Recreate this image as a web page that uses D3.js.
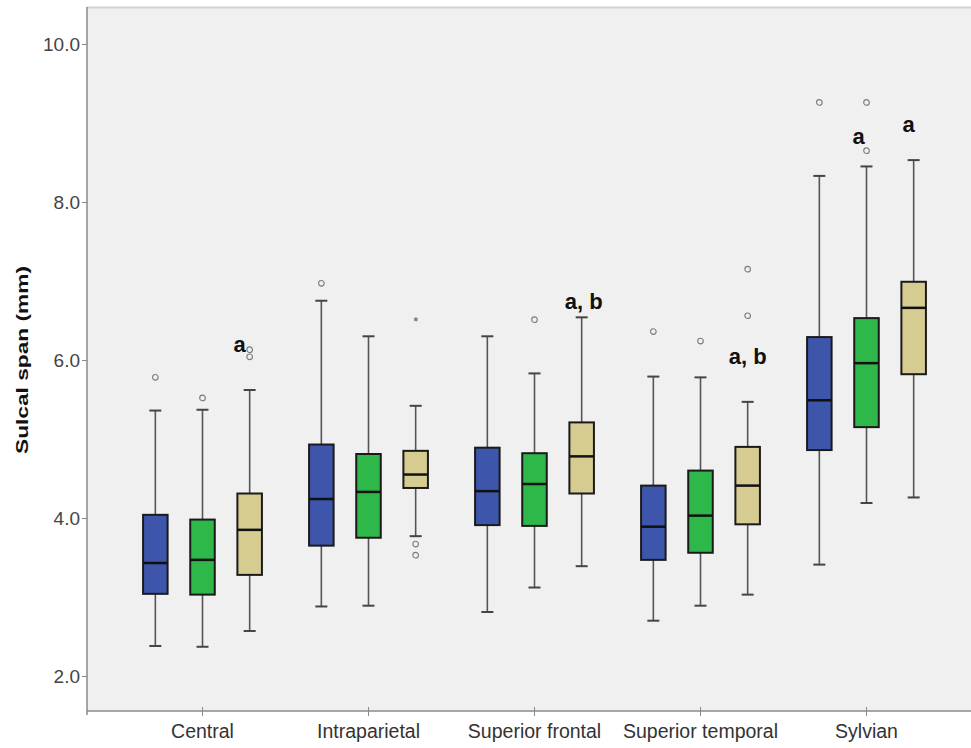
<!DOCTYPE html>
<html>
<head>
<meta charset="utf-8">
<script src="https://cdn.jsdelivr.net/npm/d3@7"></script>
<style>
  html, body { margin: 0; padding: 0; background: #ffffff; }
  svg { display: block; }
</style>
</head>
<body>
<svg id="chart" width="971" height="748"></svg>
<script>
// Sulcal span by region, three groups per region (box-and-whisker summaries, mm)
const categories = ["Central", "Intraparietal", "Superior frontal", "Superior temporal", "Sylvian"];
const groups = ["Group 1", "Group 2", "Group 3"];
const groupColors = ["#3d55aa", "#2fb84a", "#d6cc92"];

// one row per region, one value per group
const whiskerLow  = [[2.38, 2.37, 2.57], [2.88, 2.89, 3.77], [2.81, 3.12, 3.39], [2.70, 2.89, 3.03], [3.41, 4.19, 4.26]];
const quartile1   = [[3.04, 3.03, 3.28], [3.65, 3.75, 4.38], [3.91, 3.90, 4.31], [3.47, 3.56, 3.92], [4.86, 5.15, 5.82]];
const medians     = [[3.43, 3.47, 3.85], [4.24, 4.33, 4.55], [4.34, 4.43, 4.78], [3.89, 4.03, 4.41], [5.49, 5.96, 6.66]];
const quartile3   = [[4.04, 3.98, 4.31], [4.93, 4.81, 4.85], [4.89, 4.82, 5.21], [4.41, 4.60, 4.90], [6.29, 6.53, 6.99]];
const whiskerHigh = [[5.36, 5.37, 5.62], [6.75, 6.30, 5.42], [6.30, 5.83, 6.54], [5.79, 5.78, 5.47], [8.33, 8.45, 8.53]];
const outliers    = [
  [[5.78], [5.52], [6.04, 6.13]],
  [[6.97], [], [3.67, 3.53]],
  [[], [6.51], []],
  [[6.36], [6.24], [6.56, 7.15]],
  [[9.26], [8.65, 9.26], []]
];
const extremes    = [
  [[], [], []],
  [[], [], [6.51]],
  [[], [], []],
  [[], [], []],
  [[], [], []]
];

// significance letters: region, group index, text, anchor value (mm)
const sigLabels = [
  { region: "Central", group: 2, text: "a", at: 6.10, dx: -10 },
  { region: "Superior frontal", group: 2, text: "a, b", at: 6.65, dx: 2 },
  { region: "Superior temporal", group: 2, text: "a, b", at: 5.95, dx: 0 },
  { region: "Sylvian", group: 1, text: "a", at: 8.73, dx: -8 },
  { region: "Sylvian", group: 2, text: "a", at: 8.89, dx: -5 }
];

const yTicks = [2, 4, 6, 8, 10];
const yTitle = "Sulcal span (mm)";

// ---- layout ----
const plot = { left: 87, right: 971, top: 7, bottom: 711 };
const svg = d3.select("#chart");

const y = d3.scaleLinear().domain([1.557, 10.468]).range([plot.bottom, plot.top]);
const x = d3.scaleBand().domain(categories).range([119.5, 949.5]);
const xSub = d3.scaleBand().domain(d3.range(groups.length))
  .range([0, x.bandwidth()]).paddingInner(0.48).paddingOuter(0.5);

// plot background
svg.append("rect")
  .attr("x", plot.left).attr("y", plot.top)
  .attr("width", plot.right - plot.left).attr("height", plot.bottom - plot.top)
  .attr("fill", "#f0f0f0");
svg.append("line")
  .attr("x1", plot.left).attr("x2", plot.right)
  .attr("y1", plot.top + 0.5).attr("y2", plot.top + 0.5)
  .attr("stroke", "#d2d2d2").attr("stroke-width", 2);

// ---- boxes ----
const rows = [];
categories.forEach((c, i) => {
  groups.forEach((g, j) => {
    rows.push({
      cat: c, gi: j,
      lo: whiskerLow[i][j], q1: quartile1[i][j], med: medians[i][j],
      q3: quartile3[i][j], hi: whiskerHigh[i][j],
      out: outliers[i][j], ext: extremes[i][j]
    });
  });
});

const bw = xSub.bandwidth();
const capHalf = 6;
const boxes = svg.append("g").selectAll("g.box").data(rows).join("g")
  .attr("class", "box")
  .attr("transform", d => `translate(${x(d.cat) + xSub(d.gi) + bw / 2},0)`);

// whiskers
boxes.append("line")
  .attr("x1", 0).attr("x2", 0)
  .attr("y1", d => y(d.hi)).attr("y2", d => y(d.q3))
  .attr("stroke", "#555").attr("stroke-width", 1.6);
boxes.append("line")
  .attr("x1", 0).attr("x2", 0)
  .attr("y1", d => y(d.q1)).attr("y2", d => y(d.lo))
  .attr("stroke", "#555").attr("stroke-width", 1.6);
// caps
boxes.append("line")
  .attr("x1", -capHalf).attr("x2", capHalf)
  .attr("y1", d => y(d.hi)).attr("y2", d => y(d.hi))
  .attr("stroke", "#444").attr("stroke-width", 2);
boxes.append("line")
  .attr("x1", -capHalf).attr("x2", capHalf)
  .attr("y1", d => y(d.lo)).attr("y2", d => y(d.lo))
  .attr("stroke", "#444").attr("stroke-width", 2);
// box
boxes.append("rect")
  .attr("x", -bw / 2).attr("width", bw)
  .attr("y", d => y(d.q3)).attr("height", d => y(d.q1) - y(d.q3))
  .attr("fill", d => groupColors[d.gi])
  .attr("stroke", "#1a1a1a").attr("stroke-width", 2);
// median
boxes.append("line")
  .attr("x1", -bw / 2).attr("x2", bw / 2)
  .attr("y1", d => y(d.med)).attr("y2", d => y(d.med))
  .attr("stroke", "#111").attr("stroke-width", 2.5);
// outliers
boxes.selectAll("circle.out").data(d => d.out).join("circle")
  .attr("class", "out")
  .attr("cx", 0).attr("cy", v => y(v)).attr("r", 2.8)
  .attr("fill", "none").attr("stroke", "#7a7a7a").attr("stroke-width", 1.1);
// extreme values
boxes.selectAll("text.ext").data(d => d.ext).join("text")
  .attr("class", "ext")
  .attr("x", 0).attr("y", v => y(v) + 6)
  .attr("text-anchor", "middle")
  .attr("font-family", "Liberation Sans, Arial, sans-serif")
  .attr("font-size", 13).attr("fill", "#555")
  .text("*");

// significance letters
svg.append("g").selectAll("text").data(sigLabels).join("text")
  .attr("x", d => x(d.region) + xSub(d.group) + bw / 2 + d.dx)
  .attr("y", d => y(d.at))
  .attr("text-anchor", "middle")
  .attr("font-family", "Liberation Sans, Arial, sans-serif")
  .attr("font-weight", "bold")
  .attr("font-size", 22)
  .attr("fill", "#111")
  .text(d => d.text);

// ---- axes ----
const yAxis = svg.append("g")
  .attr("transform", `translate(${plot.left},0)`)
  .call(d3.axisLeft(y).tickValues(yTicks).tickFormat(d3.format(".1f")).tickSize(5).tickSizeOuter(0));
yAxis.select(".domain").remove();
yAxis.selectAll(".tick line").attr("stroke", "#888");
yAxis.selectAll(".tick text")
  .attr("font-family", "Liberation Sans, Arial, sans-serif")
  .attr("font-size", 19).attr("fill", "#444").attr("x", -7);

const xAxis = svg.append("g")
  .attr("transform", `translate(0,${plot.bottom})`)
  .call(d3.axisBottom(x).tickSize(5).tickSizeOuter(0));
xAxis.select(".domain").remove();
xAxis.selectAll(".tick line").attr("stroke", "#888").attr("y1", -4);
xAxis.selectAll(".tick text")
  .attr("font-family", "Liberation Sans, Arial, sans-serif")
  .attr("font-size", 19.5).attr("fill", "#333").attr("y", 13);

// axis lines
svg.append("line")
  .attr("x1", plot.left).attr("x2", plot.left)
  .attr("y1", plot.top).attr("y2", plot.bottom + 4)
  .attr("stroke", "#8a8a8a").attr("stroke-width", 1.5);
svg.append("line")
  .attr("x1", plot.left).attr("x2", plot.right)
  .attr("y1", plot.bottom).attr("y2", plot.bottom)
  .attr("stroke", "#8a8a8a").attr("stroke-width", 1.5);

// y-axis title
svg.append("text")
  .attr("transform", `translate(28,${(y(2) + y(10)) / 2}) rotate(-90)`)
  .attr("text-anchor", "middle")
  .attr("font-family", "Liberation Sans, Arial, sans-serif")
  .attr("font-weight", "bold")
  .attr("font-size", 17)
  .attr("fill", "#111")
  .attr("textLength", 188)
  .attr("lengthAdjust", "spacingAndGlyphs")
  .text(yTitle);
</script>
</body>
</html>
